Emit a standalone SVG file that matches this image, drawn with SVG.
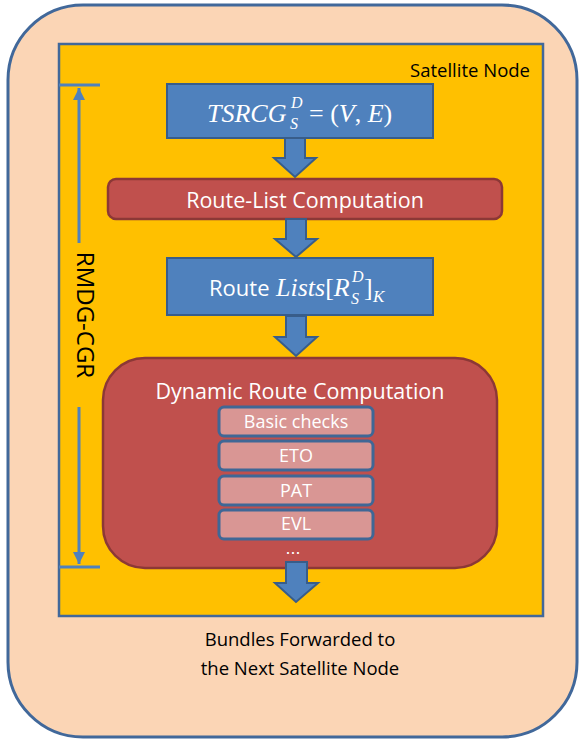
<svg xmlns="http://www.w3.org/2000/svg" width="579" height="741" viewBox="0 0 579 741">
<defs>
<style>
.sans{font-family:"Open Sans","Noto Sans","Liberation Sans",sans-serif}
.math{font-family:"Liberation Serif","DejaVu Serif",serif;font-style:italic}
.up{font-family:"Liberation Serif","DejaVu Serif",serif;font-style:normal}
.wt{fill:#fff}
.blue{fill:#4F81BD;stroke:#385D8A;stroke-width:2}
.red{fill:#C0504D;stroke:#8C3836;stroke-width:2.5}
.sub{fill:#D99694;stroke:#3F6796;stroke-width:3}
.barrow{fill:#4F81BD;stroke:#385D8A;stroke-width:2;stroke-linejoin:miter}
.dim{stroke:#4F81BD;stroke-width:3;fill:none}
</style>
<marker id="ah" viewBox="0 0 10 10" refX="10" refY="5" markerWidth="4" markerHeight="4" orient="auto" markerUnits="strokeWidth">
<path d="M0,0 L10,5 L0,10 z" fill="#4F81BD"/>
</marker>
</defs>
<g id="outer">
<rect x="8" y="5" width="569" height="732" rx="75" ry="75" fill="#FBD5B5" stroke="#41689A" stroke-width="3"/>
<text class="sans" x="300" y="646" font-size="18.5" text-anchor="middle" fill="#000">Bundles Forwarded to</text>
<text class="sans" x="300" y="675" font-size="18.5" text-anchor="middle" fill="#000">the Next Satellite Node</text>
</g>
<g id="satellite-node">
<rect x="59" y="44" width="484" height="572" fill="#FFC000" stroke="#41689A" stroke-width="2.5"/>
<text class="sans" x="530" y="77" font-size="18.5" text-anchor="end" fill="#000">Satellite Node</text>
</g>
<g id="rmdg-cgr">
<line class="dim" x1="59" y1="85" x2="100" y2="85"/>
<line class="dim" x1="59" y1="567" x2="100" y2="567"/>
<line class="dim" x1="79" y1="243" x2="79" y2="88" marker-end="url(#ah)"/>
<line class="dim" x1="79" y1="407" x2="79" y2="564" marker-end="url(#ah)"/>
<text class="sans" x="0" y="0" font-size="24" text-anchor="middle" fill="#000" transform="translate(77,315) rotate(90)">RMDG-CGR</text>
</g>
<g id="tsrcg">
<rect class="blue" x="167" y="84" width="266" height="54"/>
<text class="math wt" x="207" y="122" font-size="26">TSRCG</text>
<text class="math wt" x="291" y="108" font-size="16">D</text>
<text class="math wt" x="290" y="129" font-size="16">S</text>
<text class="up wt" x="309" y="122" font-size="26">= (<tspan class="math">V</tspan>, <tspan class="math">E</tspan>)</text>
</g>
<g id="route-list-computation">
<rect class="red" x="108" y="179" width="394" height="40" rx="8" ry="8"/>
<text class="sans wt" x="305" y="208" font-size="21.5" text-anchor="middle">Route-List Computation</text>
</g>
<g id="route-lists">
<rect class="blue" x="167" y="258" width="266" height="57"/>
<text class="sans wt" x="209" y="296" font-size="22">Route</text>
<text class="wt" x="276" y="296" font-size="26"><tspan class="math">Lists</tspan><tspan class="up">[</tspan><tspan class="math">R</tspan></text>
<text class="math wt" x="352" y="282" font-size="16">D</text>
<text class="math wt" x="351" y="304" font-size="16">S</text>
<text class="wt" x="364" y="296" font-size="26"><tspan class="up">]</tspan></text>
<text class="math wt" x="373" y="302" font-size="17">K</text>
</g>
<g id="dynamic-route-computation">
<rect class="red" x="103" y="358" width="394" height="210" rx="42" ry="42"/>
<text class="sans wt" x="300" y="399" font-size="21.5" text-anchor="middle">Dynamic Route Computation</text>
<g id="basic-checks">
<rect class="sub" x="219" y="407" width="154" height="29" rx="5" ry="5"/>
<text class="sans wt" x="296" y="428" font-size="18" text-anchor="middle">Basic checks</text>
</g>
<g id="eto">
<rect class="sub" x="219" y="441" width="154" height="29" rx="5" ry="5"/>
<text class="sans wt" x="296" y="462" font-size="18" text-anchor="middle">ETO</text>
</g>
<g id="pat">
<rect class="sub" x="219" y="476" width="154" height="29" rx="5" ry="5"/>
<text class="sans wt" x="296" y="497" font-size="18" text-anchor="middle">PAT</text>
</g>
<g id="evl">
<rect class="sub" x="219" y="510" width="154" height="29" rx="5" ry="5"/>
<text class="sans wt" x="296" y="530" font-size="18" text-anchor="middle">EVL</text>
</g>
<text x="293" y="554" font-family="Liberation Sans, sans-serif" font-size="18" text-anchor="middle" fill="#fff">...</text>
</g>
<g id="connectors">
<path class="barrow" d="M285,138 L305,138 L305,158 L316,158 L295,177 L274,158 L285,158 Z"/>
<path class="barrow" d="M286,219 L306,219 L306,239 L317,239 L296,257 L275,239 L286,239 Z"/>
<path class="barrow" d="M286,316 L306,316 L306,337 L317,337 L296,356 L275,337 L286,337 Z"/>
<path class="barrow" d="M286,562 L307,562 L307,583 L318,583 L296,602 L275,583 L286,583 Z"/>
</g>
</svg>
